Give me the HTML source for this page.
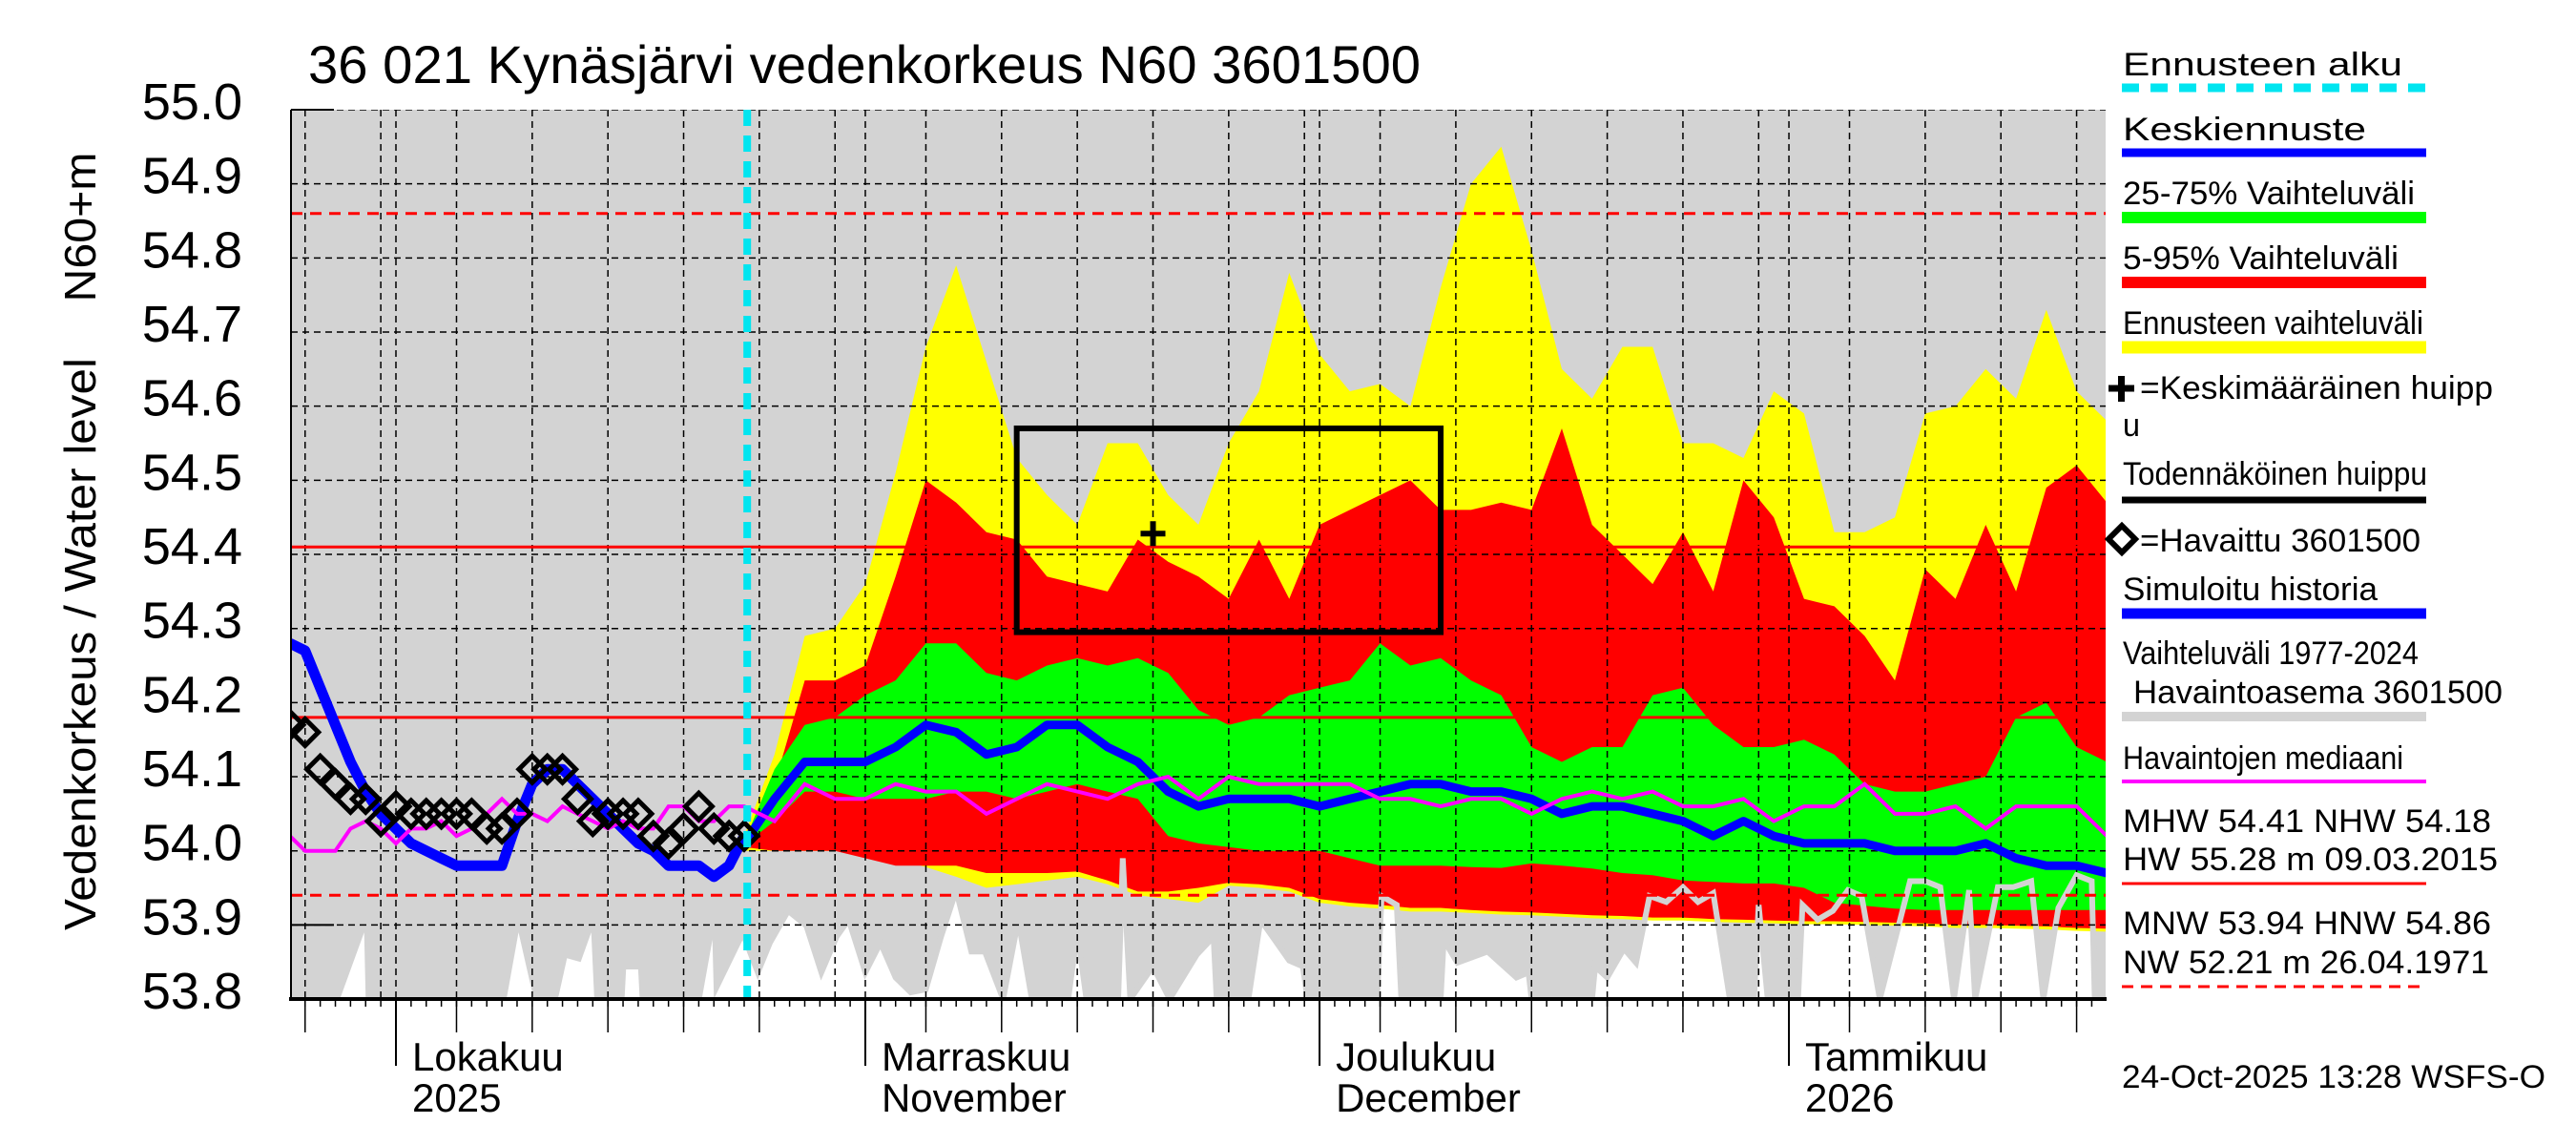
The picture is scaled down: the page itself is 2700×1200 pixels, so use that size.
<!DOCTYPE html>
<html><head><meta charset="utf-8">
<style>
html,body{margin:0;padding:0;background:#fff;}
svg{display:block;font-family:"Liberation Sans",Arial,sans-serif;}
</style></head>
<body>
<svg id="chart" xmlns="http://www.w3.org/2000/svg" width="2700" height="1200" viewBox="0 0 2700 1200">
<defs><clipPath id="plotclip"><rect x="305" y="115" width="1902" height="932"/></clipPath></defs>
<rect x="0" y="0" width="2700" height="1200" fill="#fff"/>
<text x="323" y="87" font-size="56" textLength="1166" lengthAdjust="spacingAndGlyphs">36 021 Kynäsjärvi vedenkorkeus N60 3601500</text>
<text transform="translate(100,675) rotate(-90)" text-anchor="middle" font-size="46" textLength="600" lengthAdjust="spacingAndGlyphs">Vedenkorkeus / Water level</text>
<text transform="translate(100,238) rotate(-90)" text-anchor="middle" font-size="46" textLength="157" lengthAdjust="spacingAndGlyphs">N60+m</text>
<g id="plot" clip-path="url(#plotclip)"></g>
<g id="axes"></g>
<g id="legend"></g>
</svg>
<script>
// ---- data (t = days since 1 Oct 2025) ----
const histDays = [-7,-6,-5,-4,-3,-2,-1,0,1,2,3,4,5,6,7,8,9,10,11,12,13,14,15,16,17,18,19,20,21,22,23];
const simHistory = [54.28,54.27,54.22,54.17,54.12,54.08,54.05,54.03,54.01,54.00,53.99,53.98,53.98,53.98,53.98,54.04,54.09,54.11,54.11,54.09,54.07,54.05,54.03,54.01,54.00,53.98,53.98,53.98,53.965,53.98,54.02];
const observed = [54.17,54.16,54.11,54.09,54.07,54.07,54.04,54.06,54.05,54.05,54.05,54.05,54.05,54.03,54.03,54.05,54.11,54.11,54.11,54.07,54.04,54.05,54.05,54.05,54.02,54.01,54.03,54.06,54.03,54.02,54.02];
const fcDays = [23,25,27,29,31,33,35,37,39,41,43,45,47,49,51,53,55,57,59,61,63,65,67,69,71,73,75,77,79,81,83,85,87,89,91,93,95,97,99,101,103,105,107,109,111,113];
const fcMedian = [54.01,54.07,54.12,54.12,54.12,54.14,54.17,54.16,54.13,54.14,54.17,54.17,54.14,54.12,54.08,54.06,54.07,54.07,54.07,54.06,54.07,54.08,54.09,54.09,54.08,54.08,54.07,54.05,54.06,54.06,54.05,54.04,54.02,54.04,54.02,54.01,54.01,54.01,54.00,54.00,54.00,54.01,53.99,53.98,53.98,53.97];
const yellowTop = [54.02,54.13,54.29,54.30,54.36,54.51,54.68,54.79,54.66,54.53,54.48,54.44,54.55,54.55,54.48,54.44,54.55,54.62,54.78,54.67,54.62,54.63,54.60,54.76,54.90,54.95,54.81,54.65,54.61,54.68,54.68,54.55,54.55,54.53,54.62,54.59,54.43,54.43,54.45,54.59,54.60,54.65,54.61,54.73,54.62,54.58];
const redTop = [54.015,54.09,54.23,54.23,54.25,54.37,54.50,54.47,54.43,54.42,54.37,54.36,54.35,54.42,54.39,54.37,54.34,54.42,54.34,54.44,54.46,54.48,54.50,54.46,54.46,54.47,54.46,54.57,54.44,54.40,54.36,54.43,54.35,54.50,54.45,54.34,54.33,54.29,54.23,54.38,54.34,54.44,54.35,54.49,54.52,54.47];
const greenTop = [54.012,54.11,54.17,54.18,54.21,54.23,54.28,54.28,54.24,54.23,54.25,54.26,54.25,54.26,54.24,54.19,54.17,54.18,54.21,54.22,54.23,54.28,54.25,54.26,54.23,54.21,54.14,54.12,54.14,54.14,54.21,54.22,54.17,54.14,54.14,54.15,54.13,54.09,54.08,54.08,54.09,54.10,54.18,54.20,54.14,54.12];
const greenBottom = [54.008,54.04,54.08,54.08,54.07,54.07,54.07,54.08,54.08,54.07,54.08,54.09,54.08,54.07,54.02,54.01,54.005,54.00,54.00,54.00,53.99,53.98,53.98,53.98,53.978,53.977,53.983,53.98,53.976,53.97,53.967,53.96,53.958,53.956,53.956,53.95,53.93,53.926,53.922,53.92,53.92,53.92,53.92,53.92,53.92,53.92];
const redBottom = [54.005,54.0,54.0,54.0,53.99,53.98,53.98,53.98,53.97,53.97,53.97,53.972,53.96,53.945,53.945,53.95,53.957,53.955,53.95,53.935,53.93,53.927,53.923,53.923,53.92,53.918,53.917,53.915,53.913,53.912,53.91,53.91,53.908,53.907,53.906,53.905,53.905,53.904,53.903,53.902,53.90,53.90,53.899,53.898,53.896,53.895];
const yellowBottom = [54.0,54.0,54.0,54.0,53.995,53.99,53.978,53.965,53.95,53.955,53.96,53.965,53.955,53.94,53.935,53.93,53.953,53.95,53.945,53.93,53.925,53.922,53.918,53.918,53.916,53.914,53.913,53.911,53.909,53.908,53.906,53.906,53.904,53.903,53.902,53.901,53.901,53.9,53.899,53.898,53.896,53.896,53.895,53.894,53.892,53.891];
const medianDays = [-7,-6,-5,-4,-3,-2,-1,0,1,2,3,4,5,6,7,8,9,10,11,12,13,14,15,16,17,18,19,20,21,22,23,25,27,29,31,33,35,37,39,41,43,45,47,49,51,53,55,57,59,61,63,65,67,69,71,73,75,77,79,81,83,85,87,89,91,93,95,97,99,101,103,105,107,109,111,113];
const medianObs = [54.02,54.00,54.00,54.00,54.03,54.04,54.03,54.01,54.03,54.03,54.04,54.02,54.03,54.05,54.07,54.05,54.05,54.04,54.06,54.05,54.04,54.03,54.04,54.03,54.03,54.06,54.06,54.04,54.04,54.06,54.06,54.04,54.09,54.07,54.07,54.09,54.08,54.08,54.05,54.07,54.09,54.08,54.07,54.09,54.10,54.07,54.10,54.09,54.09,54.09,54.09,54.07,54.07,54.06,54.07,54.07,54.05,54.07,54.08,54.07,54.08,54.06,54.06,54.07,54.04,54.06,54.06,54.09,54.05,54.05,54.06,54.03,54.06,54.06,54.06,54.02];
const minDays = [-7,-3.7,-2.1,-2.0,7.3,8.1,9.1,10.7,11.3,12.2,12.9,13.1,15.1,15.2,16.0,16.1,20.2,20.9,21.0,23.0,23.9,24.7,25.9,27.1,28.1,29.1,29.9,31.0,32.0,33.0,34.0,35.0,36.0,37.0,38.0,38.9,40.1,41.1,42.0,44.4,45.0,45.6,47.7,48.0,48.5,50.0,51.1,52.9,54.0,54.2,56.3,57.1,59.0,59.9,60.2,64.8,65.1,66.1,66.4,69.0,69.2,70.1,72.1,74.0,74.8,75.0,79.0,79.2,80.0,81.1,81.9,82.8,83.9,85.0,86.0,87.0,88.1,89.7,90.0,90.6,92.6,92.9,93.9,94.9,95.9,96.8,98.0,100.0,101.0,102.0,102.9,103.9,104.3,105.8,106.8,108.0,108.8,109.8,111.0,112.0,112.2,113.5];
const histMin = [53.80,53.80,53.89,53.80,53.80,53.89,53.80,53.80,53.855,53.85,53.89,53.80,53.80,53.84,53.84,53.80,53.80,53.88,53.80,53.884,53.836,53.876,53.919,53.899,53.836,53.884,53.907,53.836,53.876,53.829,53.809,53.813,53.884,53.947,53.864,53.864,53.80,53.907,53.80,53.80,53.89,53.80,53.80,53.99,53.80,53.844,53.80,53.86,53.884,53.80,53.80,53.907,53.852,53.844,53.80,53.80,53.939,53.927,53.80,53.80,53.88,53.849,53.864,53.829,53.836,53.80,53.80,53.844,53.829,53.868,53.849,53.939,53.931,53.951,53.931,53.943,53.80,53.80,53.927,53.80,53.80,53.927,53.907,53.919,53.947,53.939,53.80,53.959,53.959,53.951,53.80,53.947,53.80,53.951,53.951,53.959,53.80,53.923,53.967,53.959,53.80,53.80];
const refLevels = [54.86,54.41,54.18,53.94];
const refDashed = [true,false,false,true];
const yTicks = [53.8,53.9,54.0,54.1,54.2,54.3,54.4,54.5,54.6,54.7,54.8,54.9,55.0];
const gridDays = [-6,-1,0,4,9,14,19,24,29,31,35,40,45,50,55,60,61,65,70,75,80,85,90,92,96,101,106,111];
const longTickDays = [-6,4,9,14,19,24,35,40,45,50,55,65,70,75,80,85,96,101,106,111];
const monthDays = [0,31,61,92];
const monthLabels1 = ["Lokakuu","Marraskuu","Joulukuu","Tammikuu"];
const monthLabels2 = ["2025","November","December","2026"];
const forecastStart = 23.2;
const peakBox = {t0:41.0, t1:69.0, v0:54.295, v1:54.57};
const meanPeak = {t:50.0, v:54.428};

// ---- scales ----
const X = t => 415 + t*15.87;
const Y = v => 115 + (55 - v)*776.7;
const NS = "http://www.w3.org/2000/svg";
const plot = document.getElementById('plot');
const axes = document.getElementById('axes');
const legend = document.getElementById('legend');
function mk(tag, attrs, parent){const e=document.createElementNS(NS,tag);for(const k in attrs)e.setAttribute(k,attrs[k]);parent.appendChild(e);return e;}
const pts = (ts, vs) => ts.map((t,i)=>X(t).toFixed(1)+','+Y(vs[i]).toFixed(1)).join(' ');

let bg = mk('rect',{x:305,y:115,width:1902,height:932,fill:'#d3d3d3'},plot);


let wp = mk('polygon',{points: pts(minDays,histMin)+' '+X(113.5)+','+Y(53.75)+' '+X(-7)+','+Y(53.75), fill:'#fff'},plot);



function band(top,bot,color,name){
  const rev = fcDays.slice().reverse();
  const p = pts(fcDays,top)+' '+pts(rev,bot.slice().reverse());
  const e = mk('polygon',{points:p,fill:color},plot);
  
  
}
band(yellowTop,yellowBottom,'#ffff00','forecast-range-band');
band(redTop,redBottom,'#ff0000','band-5-95');
band(greenTop,greenBottom,'#00ff00','band-25-75');

let ms = mk('polyline',{points:pts(minDays.filter(t=>t>=23),histMin.filter((v,i)=>minDays[i]>=23)),fill:'none',stroke:'#d3d3d3','stroke-width':6},plot);



yTicks.forEach(v=>{
  const g = mk('line',{x1:305,x2:2207,y1:Y(v),y2:Y(v),stroke:'#000','stroke-width':1.5,'stroke-dasharray':'7 5'},plot);
  
  
});
gridDays.forEach(t=>{
  const g = mk('line',{x1:X(t),x2:X(t),y1:115,y2:1047,stroke:'#000','stroke-width':1.5,'stroke-dasharray':'7 5'},plot);
  
  
});
refLevels.forEach((v,i)=>{
  const a = {x1:305,x2:2207,y1:Y(v),y2:Y(v),stroke:'#ff0000','stroke-width':3};
  if(refDashed[i]) a['stroke-dasharray']='12 8';
  const r = mk('line',a,plot);
  
  
});
let pb = mk('rect',{x:X(peakBox.t0),y:Y(peakBox.v1),width:X(peakBox.t1)-X(peakBox.t0),height:Y(peakBox.v0)-Y(peakBox.v1),fill:'none',stroke:'#000','stroke-width':6},plot);


let mp = mk('path',{d:`M${X(meanPeak.t)-13},${Y(meanPeak.v)}h26M${X(meanPeak.t)},${Y(meanPeak.v)-13}v26`,stroke:'#000','stroke-width':6,fill:'none'},plot);



let sh = mk('polyline',{points:pts(histDays,simHistory),fill:'none',stroke:'#0000ff','stroke-width':11,'stroke-linejoin':'round'},plot);


let fm = mk('polyline',{points:pts(fcDays,fcMedian),fill:'none',stroke:'#0000ff','stroke-width':9,'stroke-linejoin':'round'},plot);


let md = mk('polyline',{points:pts(medianDays,medianObs),fill:'none',stroke:'#ff00ff','stroke-width':4},plot);


histDays.forEach((t,i)=>{
  const cx=X(t), cy=Y(observed[i]);
  const d = mk('polygon',{points:`${cx-14},${cy} ${cx},${cy-14} ${cx+14},${cy} ${cx},${cy+14}`,fill:'none',stroke:'#000','stroke-width':5},plot);
  
  
});
let fs = mk('line',{x1:X(forecastStart),x2:X(forecastStart),y1:115,y2:1047,stroke:'#00e5f0','stroke-width':8,'stroke-dasharray':'17 10'},plot);



mk('line',{x1:305,x2:305,y1:115,y2:1047,stroke:'#000','stroke-width':2},axes);
mk('line',{x1:305,x2:350,y1:115,y2:115,stroke:'#000','stroke-width':2},axes);
mk('line',{x1:305,x2:350,y1:Y(53.9),y2:Y(53.9),stroke:'#000','stroke-width':2},axes);
mk('line',{x1:303,x2:2208,y1:1047,y2:1047,stroke:'#000','stroke-width':4},axes);
yTicks.forEach(v=>{
  const t = mk('text',{x:254,y:Y(v)+10,'font-size':54,'text-anchor':'end'},axes);
  t.textContent = v.toFixed(1);
  
  
});
for(let d=-6; d<=112; d++){
  mk('line',{x1:X(d),x2:X(d),y1:1047,y2:1055,stroke:'#000','stroke-width':1.5},axes);
}
longTickDays.forEach(d=>mk('line',{x1:X(d),x2:X(d),y1:1047,y2:1082,stroke:'#000','stroke-width':1.5},axes));
monthDays.forEach((d,i)=>{
  mk('line',{x1:X(d),x2:X(d),y1:1047,y2:1117,stroke:'#000','stroke-width':2},axes);
  const a = mk('text',{x:X(d)+17,y:1122,'font-size':42},axes);
  a.textContent = monthLabels1[i];
  
  
  const b = mk('text',{x:X(d)+17,y:1165,'font-size':42},axes);
  b.textContent = monthLabels2[i];
  
  
});

function ltext(str,x,y,name,len){const t=mk('text',{x:x,y:y,'font-size':34,textLength:len,lengthAdjust:'spacingAndGlyphs'},legend);t.textContent=str;return t;}
function lline(y,color,w,name,dash){const a={x1:2224,x2:2543,y1:y,y2:y,stroke:color,'stroke-width':w};if(dash)a['stroke-dasharray']=dash;const l=mk('line',a,legend);}
ltext('Ennusteen alku',2225,79,'legend-forecast-start',293); lline(92,'#00e5f0',9,'legend-forecast-start-swatch','18 12');
ltext('Keskiennuste',2225,147,'legend-median-forecast',255); lline(160,'#0000ff',9,'legend-median-swatch');
ltext('25-75% Vaihteluväli',2225,214,'legend-25-75',306); lline(228,'#00ff00',12,'legend-25-75-swatch');
ltext('5-95% Vaihteluväli',2225,282,'legend-5-95',289); lline(296,'#ff0000',12,'legend-5-95-swatch');
ltext('Ennusteen vaihteluväli',2225,350,'legend-forecast-range',315); lline(364,'#ffff00',13,'legend-forecast-range-swatch');
let lp = mk('path',{d:'M2210,407h27M2223.5,394v27',stroke:'#000','stroke-width':7},legend);


ltext('=Keskimääräinen huipp',2243,418,'legend-mean-peak',370);
ltext('u',2225,457,'legend-mean-peak-wrap',18);
ltext('Todennäköinen huippu',2225,508,'legend-probable-peak',319); lline(524,'#000',7,'legend-probable-peak-swatch');
let ld = mk('polygon',{points:'2210,565 2224,551 2238,565 2224,579',fill:'none',stroke:'#000','stroke-width':6},legend);


ltext('=Havaittu 3601500',2243,578,'legend-observed',294);
ltext('Simuloitu historia',2225,629,'legend-simulated',267); lline(643,'#0000ff',11,'legend-simulated-swatch');
ltext('Vaihteluväli 1977-2024',2225,696,'legend-hist-range',310);
ltext('Havaintoasema 3601500',2236,737,'legend-hist-station',387); lline(751,'#d3d3d3',10,'legend-hist-range-swatch');
ltext('Havaintojen mediaani',2225,806,'legend-obs-median',294); lline(819,'#ff00ff',4,'legend-obs-median-swatch');
ltext('MHW  54.41 NHW  54.18',2225,872,'legend-mhw',386);
ltext('HW  55.28 m 09.03.2015',2225,912,'legend-hw',393); lline(926,'#ff0000',3,'legend-hw-swatch');
ltext('MNW  53.94 HNW  54.86',2225,979,'legend-mnw',386);
ltext('NW  52.21 m 26.04.1971',2225,1020,'legend-nw',384); lline(1034,'#ff0000',3,'legend-nw-swatch','12 8');
ltext('24-Oct-2025 13:28 WSFS-O',2224,1140,'timestamp',444);
</script>
</body></html>
